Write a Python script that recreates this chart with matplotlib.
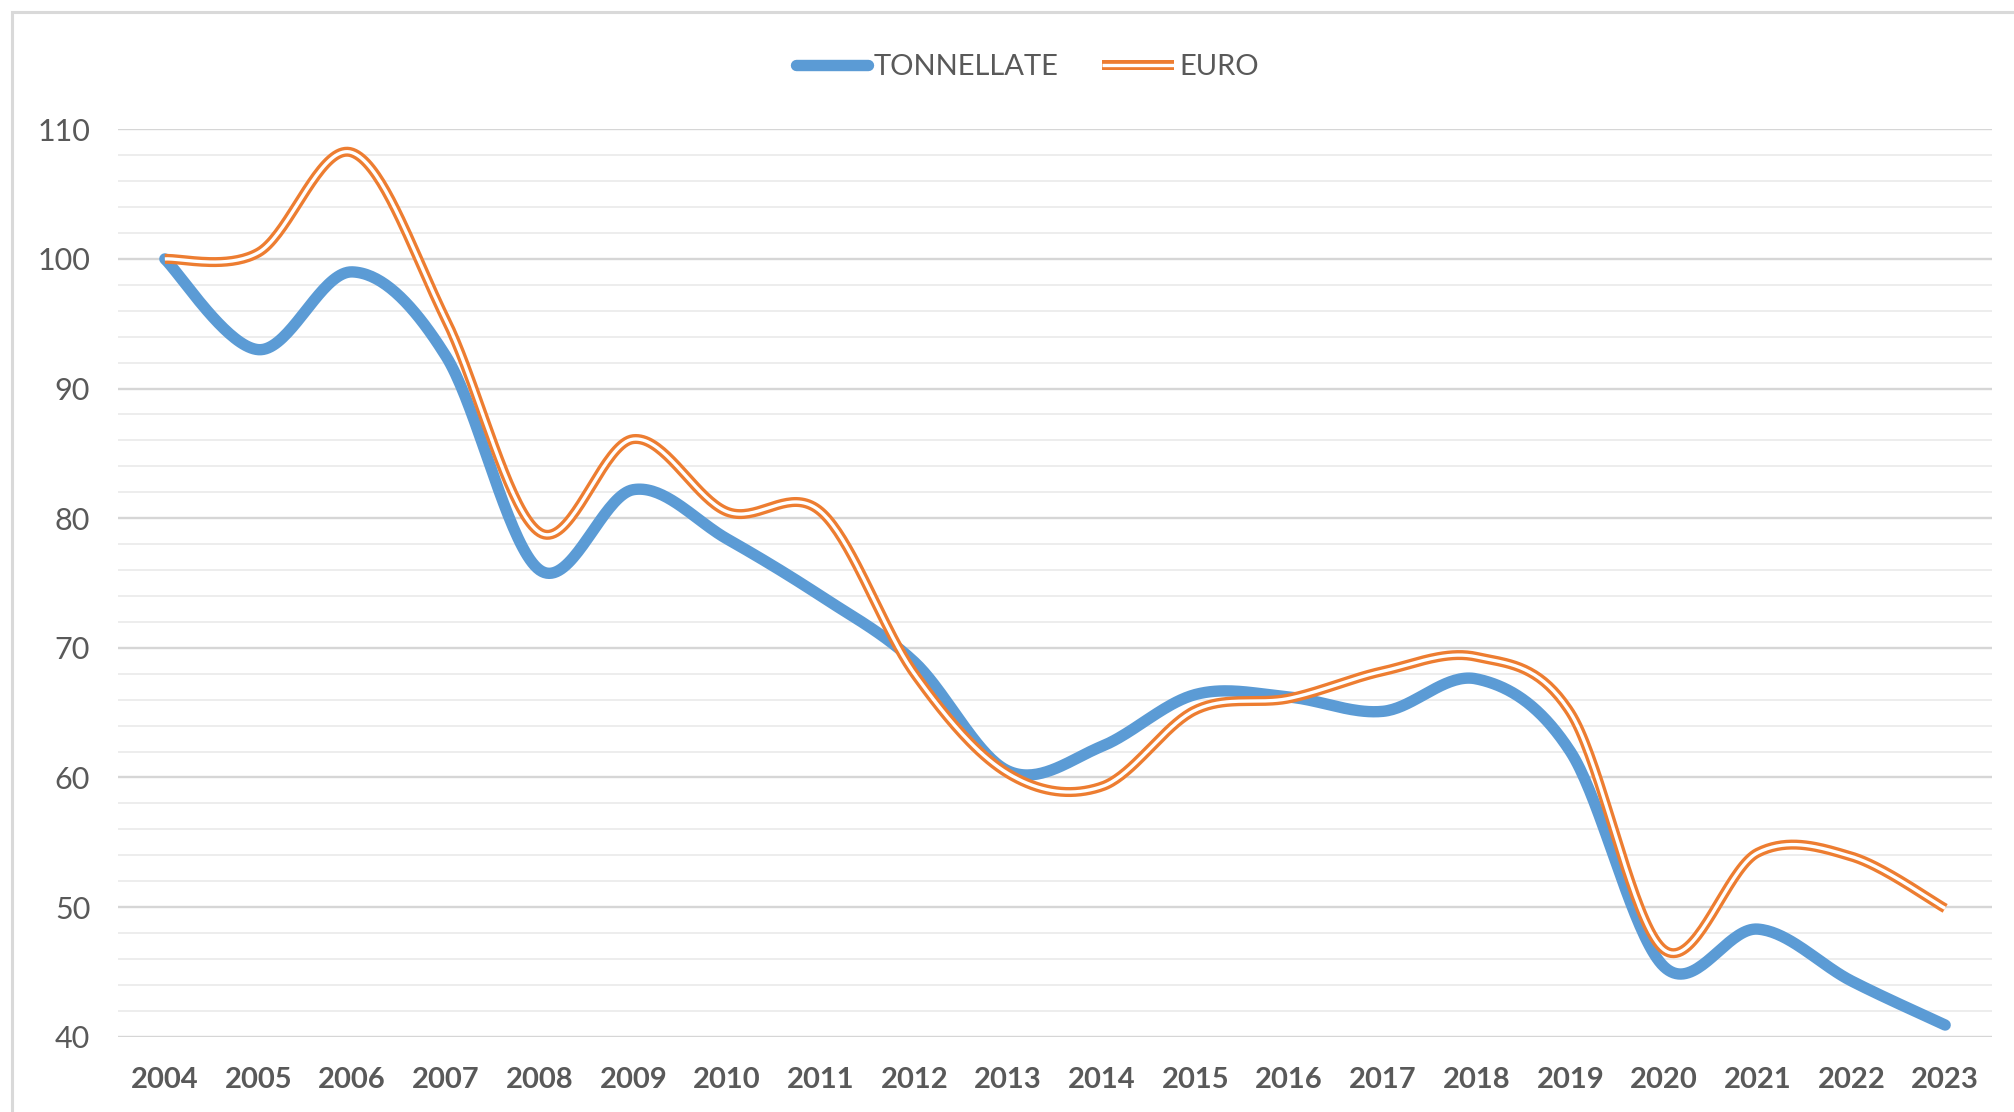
import numpy as np
import matplotlib
matplotlib.use('Agg')
import matplotlib.pyplot as plt
from matplotlib.lines import Line2D
from matplotlib.legend_handler import HandlerTuple
from matplotlib.patches import Rectangle
from matplotlib.ticker import MultipleLocator

# ---- data ----
years = [str(y) for y in range(2004, 2024)]
tonnellate = [100, 93.0, 99.0, 92.5, 76.0, 82.2, 78.4, 74.0, 68.9, 60.5,
              62.4, 66.4, 66.2, 65.1, 67.6, 62.0, 45.4, 48.3, 44.3, 40.9]
euro = [100, 100.5, 108.2, 95.3, 78.9, 86.1, 80.5, 80.5, 68.0, 60.3,
        59.3, 65.2, 66.1, 68.2, 69.3, 65.0, 46.7, 54.2, 53.9, 49.9]
series_names = ['TONNELLATE', 'EURO']

BLUE = '#5B9BD5'
ORANGE = '#ED7D31'
TXT = '#595959'

plt.rcParams['font.family'] = ['Lato', 'DejaVu Sans']


def excel_smooth(vals, n=40):
    y = np.asarray(vals, float)
    x = np.arange(len(y), dtype=float)
    P = np.column_stack([x, y])
    Pe = np.vstack([P[0], P, P[-1]])
    out = []
    t = np.linspace(0, 1, n)[:, None]
    for i in range(len(y) - 1):
        p0 = P[i]
        p3 = P[i + 1]
        c1 = p0 + (Pe[i + 2] - Pe[i]) / 6.0
        c2 = p3 - (Pe[i + 3] - Pe[i + 1]) / 6.0
        seg = (1 - t) ** 3 * p0 + 3 * (1 - t) ** 2 * t * c1 + 3 * (1 - t) * t ** 2 * c2 + t ** 3 * p3
        out.append(seg if i == 0 else seg[1:])
    s = np.vstack(out)
    return s[:, 0], s[:, 1]


W, H = 2015, 1112
fig = plt.figure(figsize=(W / 100, H / 100), dpi=100)
fig.patch.set_facecolor('white')

# outer chart frame (cropped on right/bottom)
fig.add_artist(Rectangle((12 / W, -0.1), 1.2, (H - 12) / H + 0.1, transform=fig.transFigure,
                         fill=False, ec='#d9d9d9', lw=2.2))

left, right = 118, 1992
top, bottom = 129.3, 1036.7
ax = fig.add_axes([left / W, 1 - bottom / H, (right - left) / W, (bottom - top) / H])

ax.set_xlim(-0.5, len(years) - 0.5)
ax.set_ylim(40, 110)
ax.yaxis.set_major_locator(MultipleLocator(10))
ax.yaxis.set_minor_locator(MultipleLocator(2))
ax.set_xticks(range(len(years)))
ax.set_xticklabels(years, fontsize=21, fontweight='bold', color=TXT)
ax.tick_params(axis='y', which='both', length=0, labelsize=22, labelcolor=TXT, pad=20)
ax.tick_params(axis='x', length=0, pad=22)
ax.grid(True, axis='y', which='major', color='#d6d6d6', lw=1.7, zorder=0)
ax.grid(True, axis='y', which='minor', color='#ececec', lw=1.3, zorder=0)
ax.set_axisbelow(True)
for sp in ax.spines.values():
    sp.set_visible(False)

xt, yt = excel_smooth(tonnellate)
xe, ye = excel_smooth(euro)
ax.plot(xt, yt, color=BLUE, lw=8.2, solid_capstyle='round', solid_joinstyle='round', zorder=3, clip_on=False)
ax.plot(xe, ye, color=ORANGE, lw=7.2, solid_capstyle='butt', zorder=4, clip_on=False)
ax.plot(xe, ye, color='white', lw=2.4, solid_capstyle='butt', zorder=5, clip_on=False)

h1 = Line2D([], [], color=BLUE, lw=8.2, solid_capstyle='round')
h2a = Line2D([], [], color=ORANGE, lw=7.2, solid_capstyle='butt')
h2b = Line2D([], [], color='white', lw=2.4, solid_capstyle='butt')
leg = fig.legend([h1, (h2a, h2b)], series_names, loc='center', bbox_to_anchor=(0.51, 0.94),
                 ncol=2, frameon=False, fontsize=21, handlelength=2.45, handletextpad=0.2,
                 columnspacing=1.5, labelcolor=TXT,
                 handler_map={tuple: HandlerTuple(ndivide=1, pad=0)})

fig.savefig('out.png', dpi=100, facecolor='white')
